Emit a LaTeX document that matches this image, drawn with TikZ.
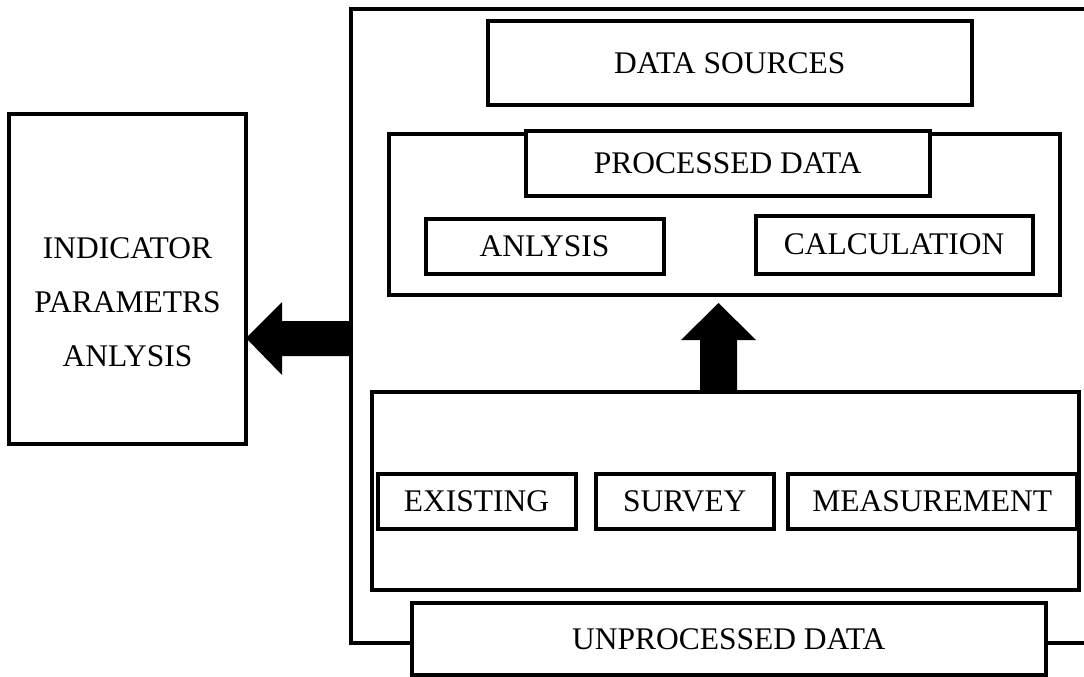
\documentclass[tikz,border=0pt]{standalone}
\usepackage{fontspec}
\setmainfont{Liberation Serif}
\begin{document}
\begin{tikzpicture}[x=1pt,y=-1pt,
  every node/.style={inner sep=0pt, outer sep=0pt},
  lbl/.style={font=\fontsize{31.5}{54}\selectfont, text=black},
  box/.style={draw=black, line width=4pt, fill=white, lbl, line join=miter},
  frame/.style={draw=black, line width=4pt, line join=miter},
  fat/.style={fill=black}]
\useasboundingbox (0,0) rectangle (1084,677);
\clip (0,0) rectangle (1084,677);

% outer frame of the data block (open to the right)
\coordinate (fTR) at (1100,9);
\coordinate (fTL) at (350.5,9);
\coordinate (fBL) at (350.5,643);
\coordinate (fBR) at (1100,643);
\draw[frame] (fTR) -- (fTL) -- (fBL) -- (fBR);

% indicator box
\node[box, minimum width=237pt, minimum height=330pt] (ind) at (127.5,279) {};
\node[lbl, align=center] (indtxt) at (127.5,302.5) {INDICATOR\\PARAMETRS\\ANLYSIS};

% data sources
\node[box, minimum width=483.5pt, minimum height=84pt] (ds) at (729.75,63) {DATA SOURCES};

% processed data group
\node[box, minimum width=671pt, minimum height=160.5pt] (proc) at (724.5,214.25) {};
\node[box, minimum width=403.5pt, minimum height=65pt] (pd) at (727.75,163.5) {PROCESSED DATA};
\node[box, minimum width=238pt, minimum height=55pt] (an) at (544.5,246) {ANLYSIS};
\node[box, minimum width=277pt, minimum height=58pt] (calc) at (894,244.5) {CALCULATION};

% raw data group
\node[box, minimum width=707pt, minimum height=198pt] (grp) at (725.5,491) {};
\node[box, minimum width=198pt, minimum height=55pt] (ex) at (476.5,501.5) {EXISTING};
\node[box, minimum width=177.5pt, minimum height=55pt] (sv) at (684.75,501.5) {SURVEY};
\node[box, minimum width=288.5pt, minimum height=55pt] (ms) at (932.25,501.5) {MEASUREMENT};

% unprocessed data label box on the frame
\node[box, minimum width=633.5pt, minimum height=72pt] (up) at (728.75,639) {UNPROCESSED DATA};

% block arrow: frame -> indicator box
\coordinate (la) at (ind.east |- 0,338);
\fill[fat] (la) -- ++(36,-36) -- ++(0,19) -- ++(67,0) -- ++(0,35)
  -- ++(-67,0) -- ++(0,19) -- cycle;

% block arrow: raw data -> processed data
\coordinate (ua) at (718.5,303);
\fill[fat] (ua) -- ++(37.5,37) -- ++(-19,0) -- ++(0,50) -- ++(-37,0)
  -- ++(0,-50) -- ++(-19,0) -- cycle;
\end{tikzpicture}
\end{document}
